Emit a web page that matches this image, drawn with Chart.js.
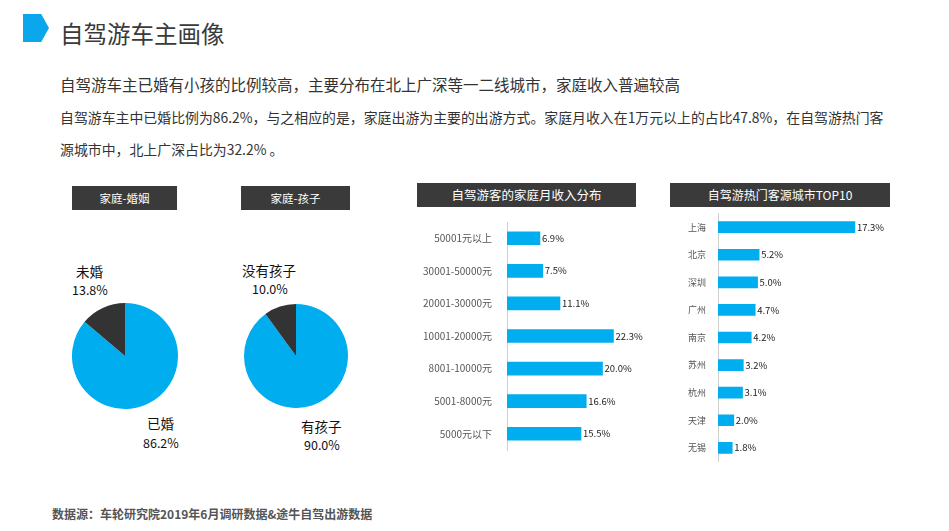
<!DOCTYPE html>
<html>
<head>
<meta charset="utf-8">
<script src="https://cdn.jsdelivr.net/npm/chart.js@4/dist/chart.umd.min.js"></script>
<style>
  body { margin: 0; background: #fff; font-family: "Noto Sans CJK SC", "Noto Sans", sans-serif; color: #333; }
  #page { position: relative; width: 949px; height: 531px; overflow: hidden; }
  .abs { position: absolute; white-space: nowrap; }
  .icon { left: 23px; top: 14px; width: 26px; height: 28px; background: #0aa7ec;
          clip-path: polygon(0 0, 70% 0, 100% 50%, 70% 100%, 0 100%); }
  .title { left: 60px; top: 17px; font-size: 23.5px; line-height: 32px; color: #3a3a3a; }
  .sub { left: 60px; top: 73px; font-size: 15.5px; line-height: 22px; color: #333; }
  .body { left: 60px; top: 101px; font-size: 13.9px; line-height: 32px; color: #333; }
  .head { background: #3a3a3a; color: #fff; text-align: center; }
  .plabel { font-size: 13.5px; line-height: 18px; color: #111; }
  .foot { left: 52px; top: 505px; font-size: 12px; font-weight: bold; color: #555; }
  .box { position: absolute; }
</style>
</head>
<body>
<div id="page">
  <div class="abs icon"></div>
  <div class="abs title">自驾游车主画像</div>
  <div class="abs sub">自驾游车主已婚有小孩的比例较高，主要分布在北上广深等一二线城市，家庭收入普遍较高</div>
  <div class="abs body">自驾游车主中已婚比例为86.2%，与之相应的是，家庭出游为主要的出游方式。家庭月收入在1万元以上的占比47.8%，在自驾游热门客<br>源城市中，北上广深占比为32.2% 。</div>

  <div class="abs head" style="left:72px;top:186px;width:105px;height:24px;line-height:24px;font-size:11.5px;">家庭-婚姻</div>
  <div class="abs head" style="left:241px;top:186px;width:109px;height:24px;line-height:24px;font-size:11.5px;">家庭-孩子</div>
  <div class="abs head" style="left:417px;top:183px;width:219px;height:24px;line-height:24px;font-size:12.5px;">自驾游客的家庭月收入分布</div>
  <div class="abs head" style="left:670px;top:183px;width:220px;height:24px;line-height:24px;font-size:12px;">自驾游热门客源城市TOP10</div>

  <div class="box" style="left:72px;top:303px;width:106px;height:106px;"><canvas id="pie1"></canvas></div>
  <div class="box" style="left:244px;top:304px;width:104px;height:104px;"><canvas id="pie2"></canvas></div>
  <div class="box" style="left:415px;top:201px;width:240px;height:270px;"><canvas id="bar1"></canvas></div>
  <div class="box" style="left:665px;top:196px;width:235px;height:283px;"><canvas id="bar2"></canvas></div>

  <div id="lbl"></div>
  <div class="abs foot">数据源：车轮研究院2019年6月调研数据&amp;途牛自驾出游数据</div>
</div>
<script>
// 婚姻
const marriageLabels = ['已婚', '未婚'];
const marriageValues = [86.2, 13.8];
// 孩子
const childLabels = ['有孩子', '没有孩子'];
const childValues = [90.0, 10.0];
// 家庭月收入
const incomeLabels = ['50001元以上', '30001-50000元', '20001-30000元', '10001-20000元', '8001-10000元', '5001-8000元', '5000元以下'];
const incomeValues = [6.9, 7.5, 11.1, 22.3, 20.0, 16.6, 15.5];
// 热门客源城市
const cityLabels = ['上海', '北京', '深圳', '广州', '南京', '苏州', '杭州', '天津', '无锡'];
const cityValues = [17.3, 5.2, 5.0, 4.7, 4.2, 3.2, 3.1, 2.0, 1.8];

const BLUE = '#00adef';
const DARK = '#333333';
const FONT = '"Noto Sans CJK SC", "Noto Sans", sans-serif';

function makePie(id, labels, values) {
    new Chart(document.getElementById(id), {
        type: 'pie',
        data: {
            labels: labels,
            datasets: [{ data: values, backgroundColor: [BLUE, DARK], borderWidth: 0 }]
        },
        options: {
            responsive: true,
            maintainAspectRatio: false,
            animation: false,
            events: [],
            layout: { padding: 0 },
            plugins: { legend: { display: false }, tooltip: { enabled: false } }
        }
    });
}

// 条形末端数值
const valueLabels = {
    id: 'valueLabels',
    afterDatasetsDraw(chart) {
        const ctx = chart.ctx;
        const meta = chart.getDatasetMeta(0);
        const values = chart.data.datasets[0].data;
        ctx.save();
        ctx.font = '9.5px ' + FONT;
        ctx.fillStyle = '#222';
        ctx.textBaseline = 'middle';
        meta.data.forEach((bar, i) => {
            ctx.fillText(values[i].toFixed(1) + '%', bar.x + 2, bar.y);
        });
        ctx.restore();
    }
};

function makeBar(id, labels, values, max, axisWidth, thickness, pad, fsize) {
    new Chart(document.getElementById(id), {
        type: 'bar',
        data: {
            labels: labels,
            datasets: [{ data: values, backgroundColor: BLUE, barThickness: thickness }]
        },
        options: {
            indexAxis: 'y',
            responsive: true,
            maintainAspectRatio: false,
            animation: false,
            events: [],
            layout: { padding: 0 },
            scales: {
                x: { display: false, min: 0, max: max },
                y: {
                    afterFit: s => { s.width = axisWidth; },
                    grid: { display: false, drawTicks: false },
                    border: { display: true, color: '#d0d0d0', width: 1 },
                    ticks: { color: '#555', padding: pad, font: { family: FONT, size: fsize } }
                }
            },
            plugins: { legend: { display: false }, tooltip: { enabled: false } }
        },
        plugins: [valueLabels]
    });
}

makePie('pie1', marriageLabels, marriageValues);
makePie('pie2', childLabels, childValues);
makeBar('bar1', incomeLabels, incomeValues, 31, 92, 13, 15, 10);
makeBar('bar2', cityLabels, cityValues, 23, 53, 11, 12, 9);

// 饼图标签
const pieTexts = [
    [marriageLabels[1], marriageValues[1], 76, 262, 72, 281],
    [marriageLabels[0], marriageValues[0], 147, 414, 143, 434],
    [childLabels[1], childValues[1], 242, 261, 252, 280],
    [childLabels[0], childValues[0], 301, 417, 304, 436]
];
const lbl = document.getElementById('lbl');
pieTexts.forEach(t => {
    const a = document.createElement('div');
    a.className = 'abs plabel';
    a.style.left = t[2] + 'px'; a.style.top = t[3] + 'px';
    a.textContent = t[0];
    const b = document.createElement('div');
    b.className = 'abs plabel';
    b.style.left = t[4] + 'px'; b.style.top = t[5] + 'px';
    b.style.fontSize = '12.5px';
    b.textContent = t[1].toFixed(1) + '%';
    lbl.appendChild(a); lbl.appendChild(b);
});
</script>
</body>
</html>
